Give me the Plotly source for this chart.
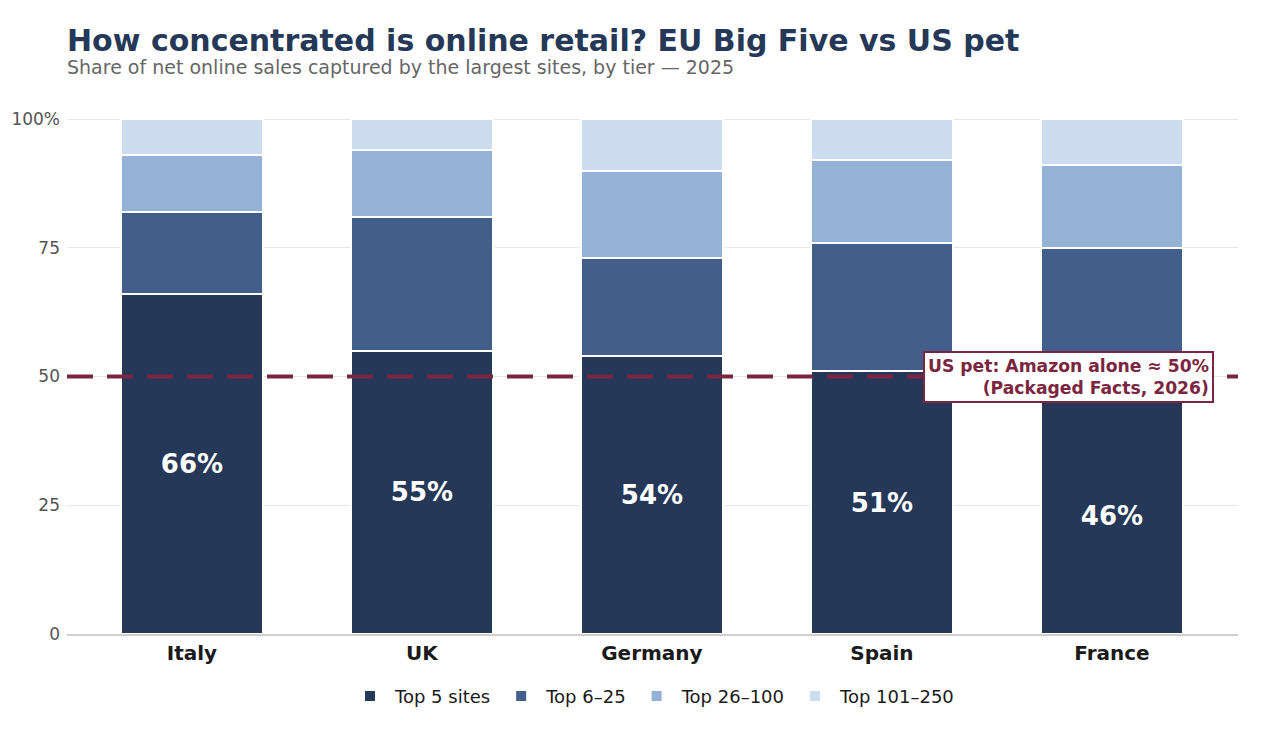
import plotly.graph_objects as go

countries = ["Italy", "UK", "Germany", "Spain", "France"]
tiers = ["Top 5 sites", "Top 6–25", "Top 26–100", "Top 101–250"]
top5 = [66, 55, 54, 51, 46]
top6_25 = [16, 26, 19, 25, 29]
top26_100 = [11, 13, 17, 16, 16]
top101_250 = [7, 6, 10, 8, 9]
colors = ["#253858", "#435e8a", "#95b1d5", "#cddcee"]
us_pet_amazon = 50
ytick_vals = [0, 25, 50, 75, 100]
ytick_text = ["0", "25", "50", "75", "100%"]

series = [top5, top6_25, top26_100, top101_250]
fig = go.Figure()
for i, (name, vals) in enumerate(zip(tiers, series)):
    fig.add_trace(go.Bar(
        x=countries, y=vals, name=name,
        marker=dict(color=colors[i], line=dict(color="white", width=2)),
        width=0.62,
        text=[f"<b>{v}%</b>" for v in vals] if i == 0 else None,
        textposition="inside" if i == 0 else None,
        insidetextanchor="middle",
        textfont=dict(color="white", size=26, family="DejaVu Sans"),
        hoverinfo="skip",
    ))

fig.add_shape(type="line", xref="paper", x0=0, x1=1, yref="y", y0=us_pet_amazon, y1=us_pet_amazon,
              line=dict(color="#7a2640", width=4, dash="26px,14px"), layer="above")

fig.add_annotation(xref="paper", x=0.9795, yref="y", y=us_pet_amazon,
                   xanchor="right", yanchor="middle", align="right",
                   text="<b>US pet: Amazon alone ≈ 50%<br>(Packaged Facts, 2026)</b>",
                   showarrow=False,
                   font=dict(color="#7a2640", size=17.2, family="DejaVu Sans"),
                   bgcolor="white", bordercolor="#7a2640", borderwidth=2, borderpad=3)

fig.add_annotation(xref="paper", yref="paper", x=0, y=1, xanchor="left", yanchor="bottom",
                   yshift=58, xshift=-2, showarrow=False,
                   text="<b>How concentrated is online retail? EU Big Five vs US pet</b>",
                   font=dict(size=30, color="#253858", family="DejaVu Sans"))
fig.add_annotation(xref="paper", yref="paper", x=0, y=1, xanchor="left", yanchor="bottom",
                   yshift=38, xshift=-2, showarrow=False,
                   text="Share of net online sales captured by the largest sites, by tier — 2025",
                   font=dict(size=19, color="#666", family="DejaVu Sans"))

fig.update_layout(
    barmode="stack",
    width=1264, height=732,
    margin=dict(l=67, r=26, t=118, b=98),
    paper_bgcolor="white", plot_bgcolor="white",
    font=dict(family="DejaVu Sans", color="#555"),
    xaxis=dict(range=[-0.543, 4.548], showgrid=False, showline=True, linecolor="#d0d0d0", linewidth=1.5,
               tickfont=dict(size=20, color="#1a1a1a", family="DejaVu Sans", weight="bold"),
               ticks=""),
    yaxis=dict(range=[0, 100.2], tickvals=ytick_vals, ticktext=ytick_text,
               gridcolor="#e6e6e6", gridwidth=1, zeroline=False,
               tickfont=dict(size=17, color="#555"), ticks="", ticklabelstandoff=6),
    legend=dict(orientation="h", x=0.5, xanchor="center", y=-0.085, yanchor="top",
                font=dict(size=18, color="#1a1a1a"), traceorder="normal", itemwidth=40),
    bargap=0.38,
)

fig.write_html("out.html")
